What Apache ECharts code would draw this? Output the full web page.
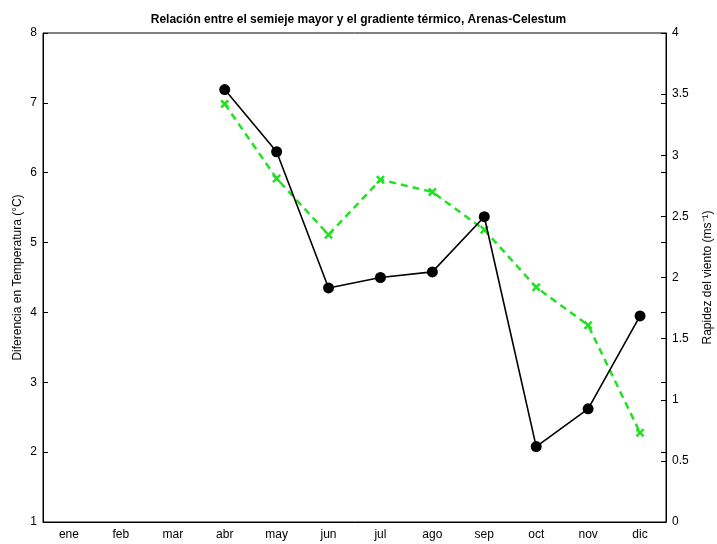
<!DOCTYPE html>
<html>
<head>
<meta charset="utf-8">
<script src="https://cdn.jsdelivr.net/npm/echarts@6/dist/echarts.min.js"></script>
<style>
  html, body { margin: 0; padding: 0; background: #fff; }
  #chart { width: 717px; height: 544px; }
</style>
</head>
<body>
<div id="chart"></div>
<script>
// month labels
const months = ["ene", "feb", "mar", "abr", "may", "jun", "jul", "ago", "sep", "oct", "nov", "dic"];
// temperature difference (left axis, °C)
const tempDiff = [null, null, null, 7.19, 6.3, 4.35, 4.5, 4.58, 5.37, 2.08, 2.62, 3.95];
// wind speed (right axis, m/s)
const windSpeed = [null, null, null, 3.42, 2.81, 2.35, 2.8, 2.7, 2.39, 1.92, 1.61, 0.73];

const font = "Liberation Sans, Arial, sans-serif";
const crossPath = "path://M2,0L5,3L8,0L10,2L7,5L10,8L8,10L5,7L2,10L0,8L3,5L0,2Z";

const chart = echarts.init(document.getElementById("chart"));

const option = {
  animation: false,
  title: {
    text: "Relación entre el semieje mayor y el gradiente térmico, Arenas-Celestum",
    left: "center",
    top: 9,
    textStyle: { fontFamily: font, fontSize: 12, fontWeight: "bold", color: "#000" }
  },
  grid: {
    left: 43, right: 51, top: 33, bottom: 22,
    containLabel: false,
    outerBoundsMode: "none",
    show: true, borderColor: "#000", borderWidth: 1
  },
  xAxis: [
    {
      type: "category",
      data: months,
      position: "bottom",
      axisLine: { lineStyle: { color: "#000" } },
      axisTick: { inside: true, alignWithLabel: true, length: 5, lineStyle: { color: "#000" } },
      axisLabel: { color: "#000", fontFamily: font, fontSize: 12, margin: 7 }
    },
    {
      type: "category",
      data: months,
      position: "top",
      axisLine: { show: false },
      axisTick: { inside: true, alignWithLabel: true, length: 5, lineStyle: { color: "#000" } },
      axisLabel: { show: false }
    }
  ],
  yAxis: [
    {
      type: "value",
      min: 1, max: 8, interval: 1,
      position: "left",
      name: "Diferencia en Temperatura (°C)",
      nameLocation: "middle",
      nameGap: 19,
      nameMoveOverlap: false,
      nameTextStyle: { color: "#000", fontFamily: font, fontSize: 12 },
      axisLine: { show: true, lineStyle: { color: "#000" } },
      axisTick: { show: true, inside: true, length: 5, lineStyle: { color: "#000" } },
      axisLabel: { color: "#000", fontFamily: font, fontSize: 12, margin: 6 },
      splitLine: { show: false }
    },
    {
      type: "value",
      min: 0, max: 4, interval: 0.5,
      position: "right",
      name: "Rapidez del viento (ms⁻¹)",
      nameLocation: "middle",
      nameGap: 36,
      nameRotate: 90,
      nameMoveOverlap: false,
      nameTextStyle: { color: "#000", fontFamily: font, fontSize: 12 },
      axisLine: { show: true, lineStyle: { color: "#000" } },
      axisTick: { show: true, inside: true, length: 5, lineStyle: { color: "#000" } },
      axisLabel: { color: "#000", fontFamily: font, fontSize: 12, margin: 6 },
      splitLine: { show: false }
    },
    {
      // mirrored ticks of the left scale on the right edge
      type: "value",
      min: 1, max: 8, interval: 1,
      position: "right",
      axisLine: { show: false },
      axisTick: { show: true, inside: true, length: 5, lineStyle: { color: "#000" } },
      axisLabel: { show: false },
      splitLine: { show: false }
    }
  ],
  series: [
    {
      type: "line",
      yAxisIndex: 1,
      data: windSpeed,
      symbol: crossPath,
      symbolSize: 9,
      lineStyle: { color: "#22e022", width: 2.5, type: [7, 5] },
      itemStyle: { color: "#22e022" },
      z: 2
    },
    {
      type: "line",
      yAxisIndex: 0,
      data: tempDiff,
      symbol: "circle",
      symbolSize: 11,
      lineStyle: { color: "#000", width: 1.6 },
      itemStyle: { color: "#000" },
      z: 3
    }
  ]
};

chart.setOption(option);
</script>
</body>
</html>
